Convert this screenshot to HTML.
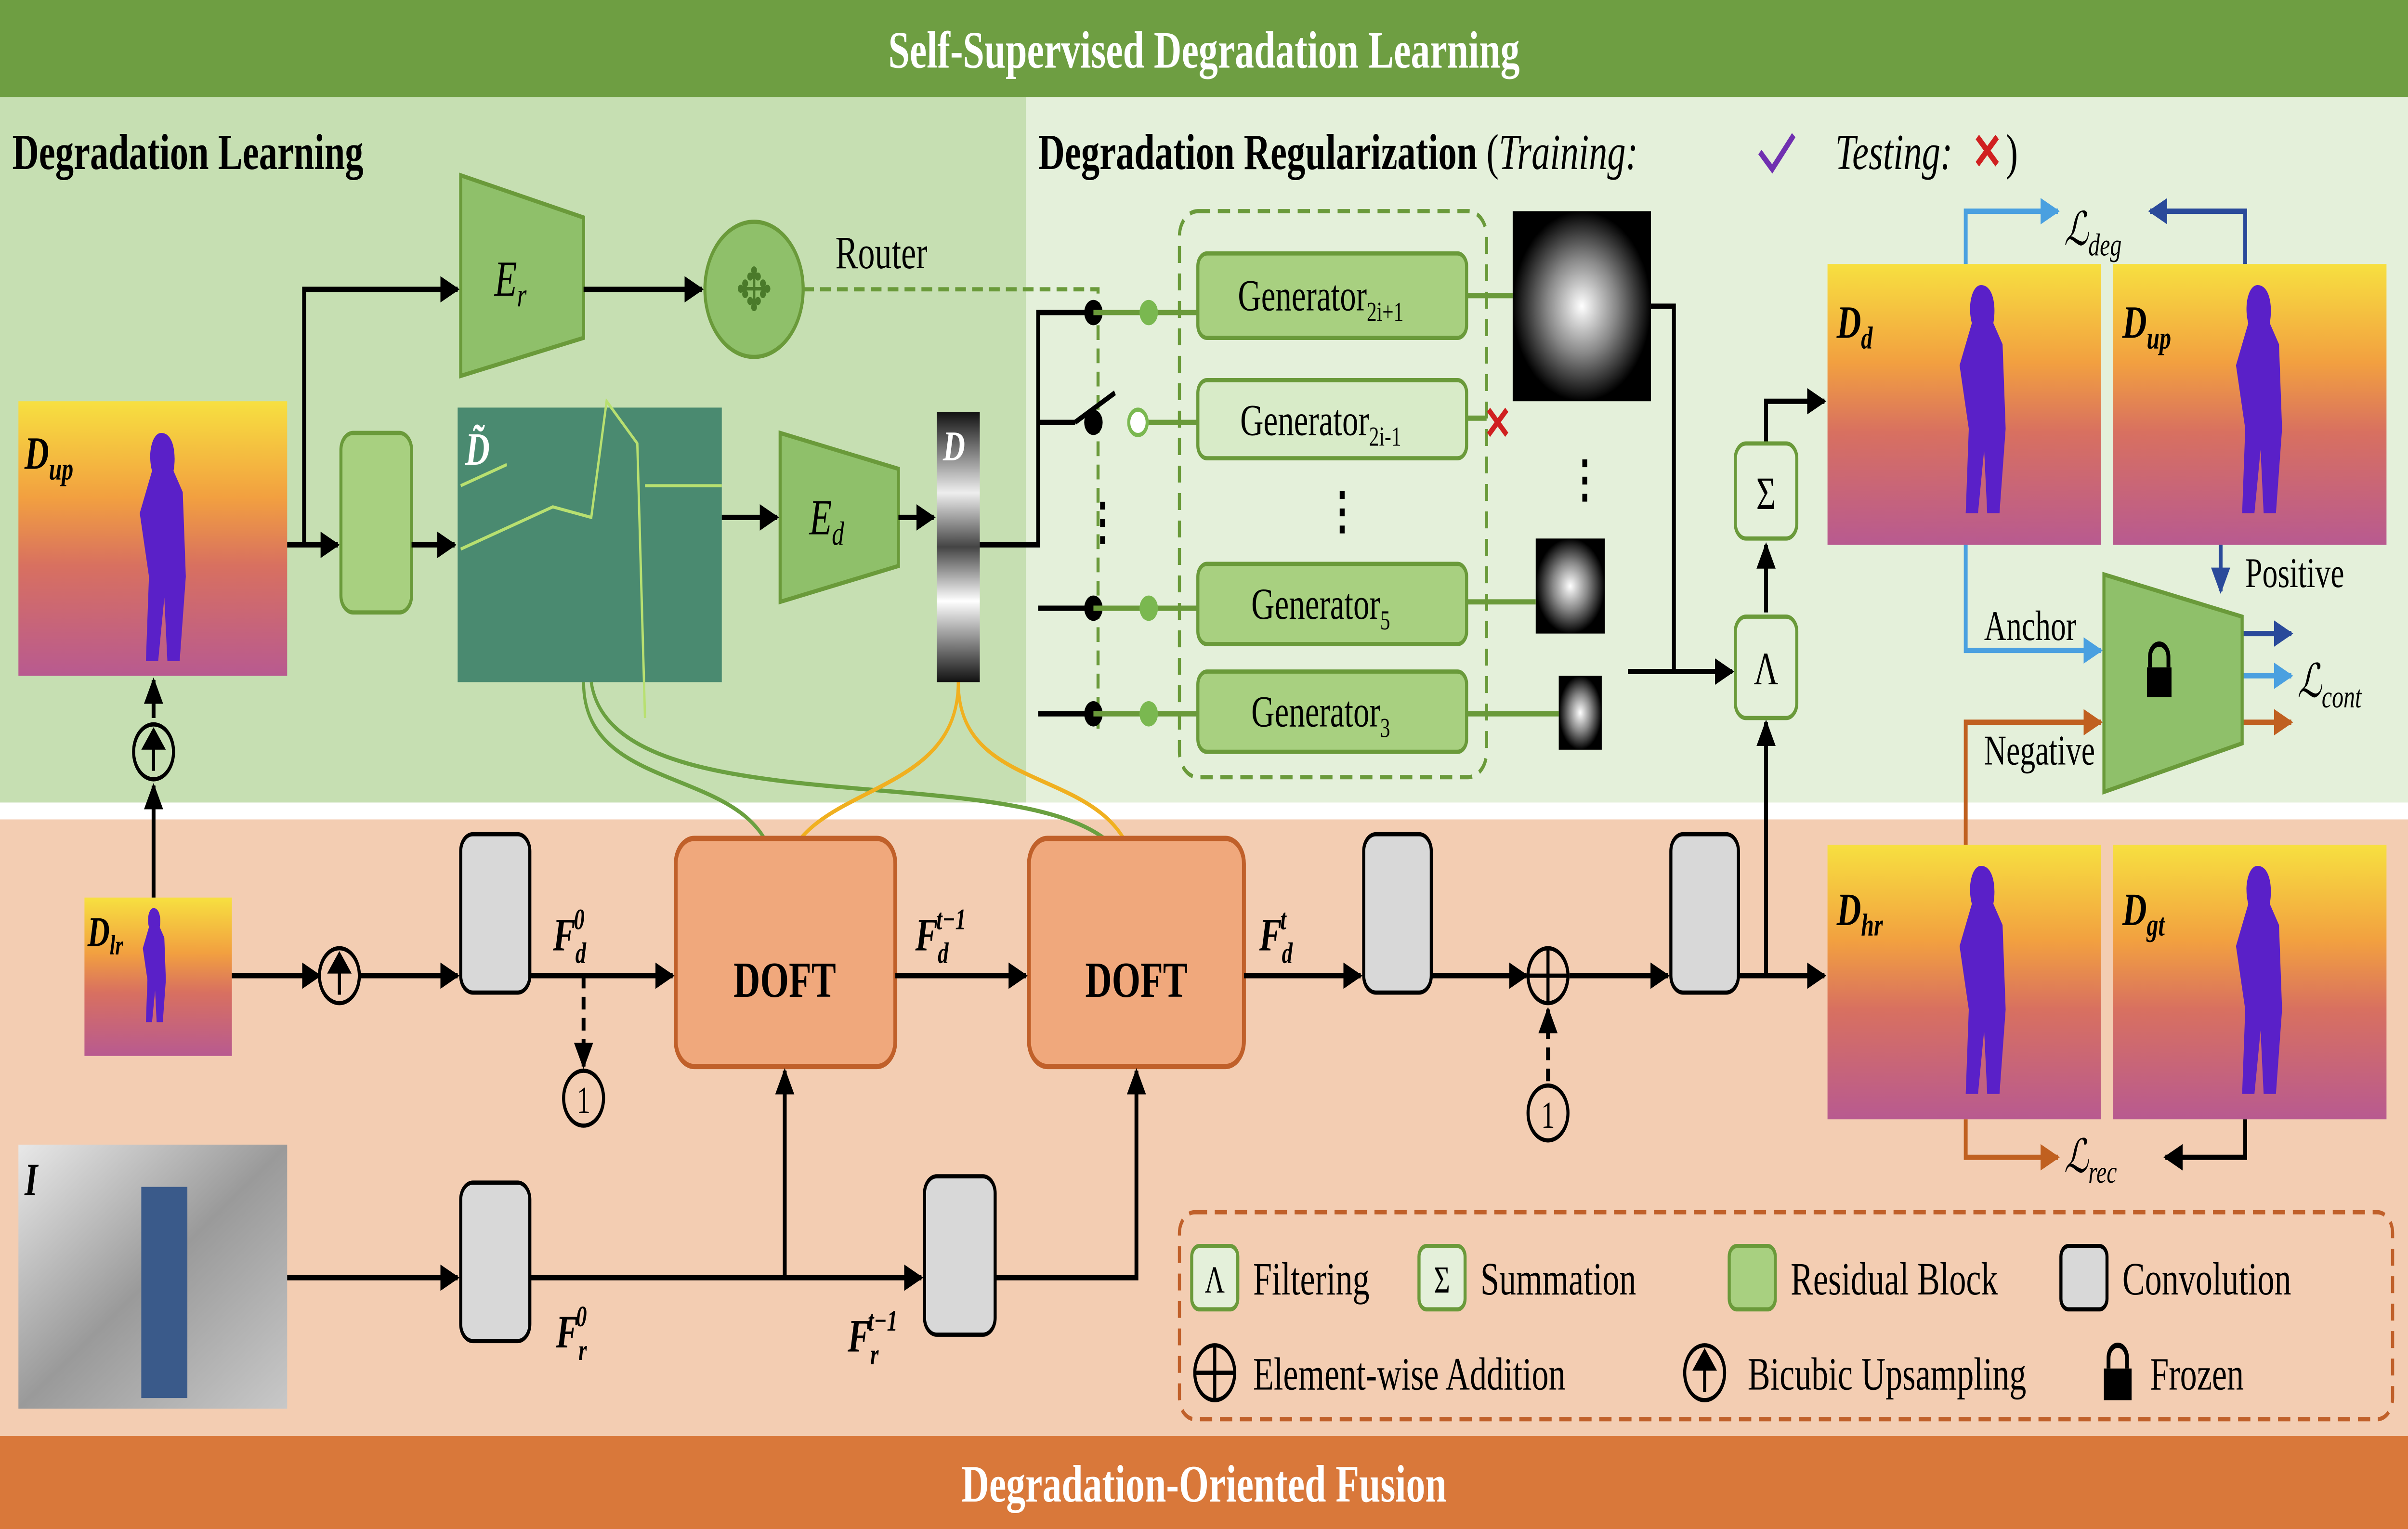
<!DOCTYPE html>
<html><head><meta charset="utf-8"><style>html,body{margin:0;padding:0;background:#fff;width:100vw;height:100vh;overflow:hidden}svg{display:block;width:100vw;height:100vh}text{font-family:"Liberation Serif",serif}</style></head><body>
<svg viewBox="0 0 1568 724" preserveAspectRatio="none" xmlns="http://www.w3.org/2000/svg">
<defs>
<linearGradient id="dep" x1="0" y1="0" x2="0" y2="1"><stop offset="0" stop-color="#f7e040"/><stop offset="0.35" stop-color="#f2a040"/><stop offset="0.6" stop-color="#d87060"/><stop offset="1" stop-color="#b85a90"/></linearGradient>
<linearGradient id="gray" x1="0" y1="0" x2="1" y2="1"><stop offset="0" stop-color="#e8e8e8"/><stop offset="0.5" stop-color="#9a9a9a"/><stop offset="1" stop-color="#c8c8c8"/></linearGradient>
<linearGradient id="strip" x1="0" y1="0" x2="0" y2="1"><stop offset="0" stop-color="#111"/><stop offset="0.3" stop-color="#eee"/><stop offset="0.5" stop-color="#444"/><stop offset="0.7" stop-color="#fff"/><stop offset="1" stop-color="#111"/></linearGradient>
<radialGradient id="kern"><stop offset="0" stop-color="#fff"/><stop offset="0.5" stop-color="#888"/><stop offset="1" stop-color="#000"/></radialGradient>
<marker id="a" viewBox="0 0 10 10" refX="9" refY="5" markerWidth="5" markerHeight="5" orient="auto"><path d="M0,0L10,5L0,10z" fill="#000"/></marker>
<marker id="ag" viewBox="0 0 10 10" refX="9" refY="5" markerWidth="5" markerHeight="5" orient="auto"><path d="M0,0L10,5L0,10z" fill="#6a9a3a"/></marker>
<marker id="ay" viewBox="0 0 10 10" refX="9" refY="5" markerWidth="5" markerHeight="5" orient="auto"><path d="M0,0L10,5L0,10z" fill="#f0b020"/></marker>
<marker id="ab" viewBox="0 0 10 10" refX="9" refY="5" markerWidth="5" markerHeight="5" orient="auto"><path d="M0,0L10,5L0,10z" fill="#4aa0e0"/></marker>
<marker id="an" viewBox="0 0 10 10" refX="9" refY="5" markerWidth="5" markerHeight="5" orient="auto"><path d="M0,0L10,5L0,10z" fill="#2a4a9a"/></marker>
<marker id="ao" viewBox="0 0 10 10" refX="9" refY="5" markerWidth="5" markerHeight="5" orient="auto"><path d="M0,0L10,5L0,10z" fill="#c06020"/></marker>
<g id="fig"><path d="M0,0c8,0 10,10 8,18l6,10l2,40l-4,40h-8l-2,-30l-4,30h-8l2,-40l-6,-30l8,-20c-3,-8 0,-18 6,-18z" fill="#5a20c8"/></g>
</defs>
<rect width="1568" height="724" fill="#fff"/>
<rect x="0" y="0" width="1568" height="46" fill="#6e9e42"/>
<text x="784" y="32" font-size="25" font-weight="bold" fill="#fff" text-anchor="middle">Self-Supervised Degradation Learning</text>
<rect x="0" y="46" width="668" height="334" fill="#c6dfb2"/>
<rect x="668" y="46" width="900" height="334" fill="#e4f0da"/>
<rect x="0" y="388" width="1568" height="292" fill="#f3cdb2"/>
<rect x="0" y="680" width="1568" height="44" fill="#d9783a"/>
<text x="784" y="711" font-size="25" font-weight="bold" fill="#fff" text-anchor="middle">Degradation-Oriented Fusion</text>
<text x="8" y="80" font-size="24" font-weight="bold">Degradation Learning</text>
<text x="676" y="80" font-size="24"><tspan font-weight="bold">Degradation Regularization</tspan> (<tspan font-style="italic">Training:</tspan></text>
<path d="M1146,72l8,8l14,-16" stroke="#7030b0" stroke-width="3" fill="none"/>
<text x="1195" y="80" font-size="24" font-style="italic">Testing:</text>
<text x="1284" y="80" font-size="24" fill="#d02020" font-weight="bold">✕</text><text x="1306" y="80" font-size="24">)</text>
<g><rect x="12" y="190" width="175" height="130" fill="url(#dep)"/><use href="#fig" x="105" y="205"/><text x="16" y="222" font-size="22" font-weight="bold" font-style="italic">D<tspan font-size="15" dy="5">up</tspan></text></g>
<g><rect x="55" y="425" width="96" height="75" fill="url(#dep)"/><use href="#fig" x="100" y="430" transform="translate(50,215) scale(0.5)"/><text x="57" y="448" font-size="20" font-weight="bold" font-style="italic">D<tspan font-size="13" dy="4">lr</tspan></text></g>
<g><rect x="12" y="542" width="175" height="125" fill="url(#gray)"/><rect x="92" y="562" width="30" height="100" fill="#3a5a8a"/><text x="16" y="566" font-size="22" font-weight="bold" font-style="italic">I</text></g>
<g><rect x="298" y="193" width="172" height="130" fill="#4a8a70"/><path d="M300,260l60,-20l25,5l10,-55l20,20l5,130M420,230h50M300,230l30,-10" stroke="#b8e070" stroke-width="1.5" fill="none"/><text x="303" y="220" font-size="22" font-weight="bold" font-style="italic" fill="#fff">D̃</text></g>
<rect x="610" y="195" width="28" height="128" fill="url(#strip)"/><text x="614" y="218" font-size="20" font-weight="bold" font-style="italic" fill="#fff">D</text>
<g><rect x="1190" y="125" width="178" height="133" fill="url(#dep)"/><use href="#fig" x="1290" y="135"/><text x="1196" y="160" font-size="22" font-weight="bold" font-style="italic">D<tspan font-size="15" dy="5">d</tspan></text></g>
<g><rect x="1376" y="125" width="178" height="133" fill="url(#dep)"/><use href="#fig" x="1470" y="135"/><text x="1382" y="160" font-size="22" font-weight="bold" font-style="italic">D<tspan font-size="15" dy="5">up</tspan></text></g>
<g><rect x="1190" y="400" width="178" height="130" fill="url(#dep)"/><use href="#fig" x="1290" y="410"/><text x="1196" y="438" font-size="22" font-weight="bold" font-style="italic">D<tspan font-size="15" dy="5">hr</tspan></text></g>
<g><rect x="1376" y="400" width="178" height="130" fill="url(#dep)"/><use href="#fig" x="1470" y="410"/><text x="1382" y="438" font-size="22" font-weight="bold" font-style="italic">D<tspan font-size="15" dy="5">gt</tspan></text></g>
<rect x="985" y="100" width="90" height="90" fill="url(#kern)"/>
<rect x="1000" y="255" width="45" height="45" fill="url(#kern)"/>
<rect x="1015" y="320" width="28" height="35" fill="url(#kern)"/>
<text x="1020" y="235" font-size="24" font-weight="bold">⋮</text>
<path d="M300,83L380,103V160L300,178z" fill="#8fc06a" stroke="#6a9a3a" stroke-width="2"/><text x="322" y="140" font-size="24" font-style="italic">E<tspan font-size="16" dy="5">r</tspan></text>
<path d="M508,205L585,222V268L508,285z" fill="#8fc06a" stroke="#6a9a3a" stroke-width="2"/><text x="527" y="253" font-size="24" font-style="italic">E<tspan font-size="16" dy="5">d</tspan></text>
<circle cx="491" cy="137" r="32" fill="#8fc06a" stroke="#6a9a3a" stroke-width="2"/><text x="491" y="147" font-size="28" text-anchor="middle" fill="#4a7a2a">✥</text>
<text x="544" y="127" font-size="22">Router</text>
<rect x="222" y="205" width="46" height="85" rx="8" fill="#a8d080" stroke="#6a9a3a" stroke-width="2"/>
<rect x="768" y="100" width="200" height="268" rx="12" fill="none" stroke="#6a9a3a" stroke-width="2" stroke-dasharray="8,5"/>
<g font-size="21" text-anchor="middle">
<rect x="780" y="120" width="175" height="40" rx="6" fill="#a8d080" stroke="#6a9a3a" stroke-width="2"/><text x="860" y="147">Generator<tspan font-size="13" dy="5">2i+1</tspan></text>
<rect x="780" y="180" width="175" height="37" rx="6" fill="#d8ebc8" stroke="#6a9a3a" stroke-width="2"/><text x="860" y="206">Generator<tspan font-size="13" dy="5">2i-1</tspan></text>
<rect x="780" y="267" width="175" height="38" rx="6" fill="#a8d080" stroke="#6a9a3a" stroke-width="2"/><text x="860" y="293">Generator<tspan font-size="13" dy="5">5</tspan></text>
<rect x="780" y="318" width="175" height="38" rx="6" fill="#a8d080" stroke="#6a9a3a" stroke-width="2"/><text x="860" y="344">Generator<tspan font-size="13" dy="5">3</tspan></text>
</g>
<text x="862" y="250" font-size="24" font-weight="bold">⋮</text><text x="706" y="255" font-size="24" font-weight="bold">⋮</text>
<text x="966" y="208" font-size="22" fill="#d02020" font-weight="bold">✕</text>
<path d="M523,137H715V345" stroke="#6a9a3a" stroke-width="2" fill="none" stroke-dasharray="7,4"/>
<g stroke="#000" stroke-width="2.5" fill="none">
<path d="M638,258H676V148H712M676,200H700M676,288H712M676,338H712"/>
<path d="M700,200L726,186"/>
</g>
<g fill="#000"><circle cx="712" cy="148" r="6"/><circle cx="712" cy="200" r="6"/><circle cx="712" cy="288" r="6"/><circle cx="712" cy="338" r="6"/></g>
<g stroke="#6a9a3a" stroke-width="2.5" fill="none"><path d="M712,148H780M745,200H780M712,288H780M712,338H780M955,140H985M955,198H968M955,285H1000M955,338H1015"/></g>
<g fill="#7ab850"><circle cx="748" cy="148" r="6"/><circle cx="748" cy="288" r="6"/><circle cx="748" cy="338" r="6"/></g><circle cx="741" cy="200" r="6" fill="#fff" stroke="#7ab850" stroke-width="2"/>
<g stroke="#000" stroke-width="2.5" fill="none" marker-end="url(#a)">
<path d="M187,258H220"/><path d="M198,258V137H298"/><path d="M380,137H457"/><path d="M268,258H296"/><path d="M470,245H506"/><path d="M585,245H608"/>
<path d="M1075,145H1090V318H1128"/><path d="M1060,318H1128"/>
<path d="M1150,290V258"/><path d="M1150,210V190H1188"/>
<path d="M1150,462V342"/>
<path d="M100,425V372"/><path d="M100,340V322"/>
</g>
<rect x="1130" y="210" width="40" height="45" rx="7" fill="#e4f0da" stroke="#6a9a3a" stroke-width="2"/><text x="1150" y="241" font-size="22" text-anchor="middle">Σ</text>
<rect x="1130" y="292" width="40" height="48" rx="7" fill="#e4f0da" stroke="#6a9a3a" stroke-width="2"/><text x="1150" y="324" font-size="22" text-anchor="middle">Λ</text>
<circle cx="100" cy="356" r="13" fill="none" stroke="#000" stroke-width="2"/><path d="M100,365V350M94,354L100,346L106,354z" stroke="#000" stroke-width="2"/>
<g stroke-width="2.5" fill="none">
<path d="M1280,125V100H1340" stroke="#4aa0e0" marker-end="url(#ab)"/>
<path d="M1462,125V100H1400" stroke="#2a4a9a" marker-end="url(#an)"/>
<path d="M1280,258V308H1368" stroke="#4aa0e0" marker-end="url(#ab)"/>
<path d="M1446,258V280" stroke="#2a4a9a" marker-end="url(#an)"/>
<path d="M1280,400V342H1368" stroke="#c06020" marker-end="url(#ao)"/>
<path d="M1455,300H1492" stroke="#2a4a9a" marker-end="url(#an)"/><path d="M1455,320H1492" stroke="#4aa0e0" marker-end="url(#ab)"/><path d="M1455,342H1492" stroke="#c06020" marker-end="url(#ao)"/>
<path d="M1280,530V548H1340" stroke="#c06020" marker-end="url(#ao)"/>
</g>
<path d="M1462,530V548H1410" stroke="#000" stroke-width="2.5" fill="none" marker-end="url(#a)"/>
<text x="1344" y="116" font-size="22" font-style="italic">ℒ<tspan font-size="15" dy="5">deg</tspan></text>
<text x="1462" y="278" font-size="20">Positive</text>
<text x="1292" y="303" font-size="20">Anchor</text>
<text x="1292" y="362" font-size="20">Negative</text>
<text x="1496" y="330" font-size="22" font-style="italic">ℒ<tspan font-size="15" dy="5">cont</tspan></text>
<text x="1344" y="555" font-size="22" font-style="italic">ℒ<tspan font-size="15" dy="5">rec</tspan></text>
<path d="M1370,272L1460,292V352L1370,375z" fill="#8fc06a" stroke="#6a9a3a" stroke-width="2"/>
<rect x="1398" y="316" width="16" height="14" fill="#000"/><path d="M1400,316v-5a6,6 0 0 1 12,0v5" stroke="#000" stroke-width="2.5" fill="none"/>
<g stroke-width="2" fill="none">
<path d="M380,323C380,380 500,360 505,415" stroke="#6aa040" marker-end="url(#ag)"/>
<path d="M385,323C400,400 720,350 735,415" stroke="#6aa040" marker-end="url(#ag)"/>
<path d="M624,323C624,380 520,370 510,415" stroke="#f0b020" marker-end="url(#ay)"/>
<path d="M624,323C624,380 730,360 740,415" stroke="#f0b020" marker-end="url(#ay)"/>
</g>
<g fill="#d8d8d8" stroke="#000" stroke-width="2">
<rect x="300" y="395" width="45" height="75" rx="8"/><rect x="888" y="395" width="44" height="75" rx="8"/><rect x="1088" y="395" width="44" height="75" rx="8"/>
<rect x="300" y="560" width="45" height="75" rx="8"/><rect x="602" y="557" width="46" height="75" rx="8"/>
</g>
<g fill="#f0a87c" stroke="#c0602a" stroke-width="2.5"><rect x="440" y="397" width="143" height="108" rx="12"/><rect x="670" y="397" width="140" height="108" rx="12"/></g>
<text x="511" y="472" font-size="24" font-weight="bold" text-anchor="middle">DOFT</text>
<text x="740" y="472" font-size="24" font-weight="bold" text-anchor="middle">DOFT</text>
<g stroke="#000" stroke-width="2.5" fill="none" marker-end="url(#a)">
<path d="M151,462H208"/><path d="M234,462H298"/><path d="M345,462H438"/><path d="M583,462H668"/><path d="M810,462H886"/><path d="M932,462H994"/><path d="M1022,462H1086"/><path d="M1132,462H1188"/>
<path d="M187,605H298"/><path d="M345,605H600"/><path d="M511,605V507"/><path d="M648,605H740V507"/>
</g>
<g stroke="#000" stroke-width="2.5" fill="none" stroke-dasharray="6,4"><path d="M380,462V505" marker-end="url(#a)"/><path d="M1008,512V478" marker-end="url(#a)"/></g>
<circle cx="221" cy="462" r="13" fill="none" stroke="#000" stroke-width="2"/><path d="M221,471V456M215,460L221,452L227,460z" stroke="#000" stroke-width="2"/>
<circle cx="1008" cy="462" r="13" fill="none" stroke="#000" stroke-width="2"/><path d="M995,462H1021M1008,449V475" stroke="#000" stroke-width="2"/>
<circle cx="380" cy="520" r="13" fill="none" stroke="#000" stroke-width="2"/><text x="380" y="527" font-size="18" text-anchor="middle">1</text>
<circle cx="1008" cy="527" r="13" fill="none" stroke="#000" stroke-width="2"/><text x="1008" y="534" font-size="18" text-anchor="middle">1</text>
<g font-size="22" font-weight="bold" font-style="italic">
<text x="360" y="450">F<tspan font-size="14" dy="6">d</tspan><tspan font-size="14" dx="-8" dy="-16">0</tspan></text>
<text x="596" y="450">F<tspan font-size="14" dy="6">d</tspan><tspan font-size="14" dx="-8" dy="-16">t−1</tspan></text>
<text x="820" y="450">F<tspan font-size="14" dy="6">d</tspan><tspan font-size="14" dx="-8" dy="-16">t</tspan></text>
<text x="362" y="638">F<tspan font-size="14" dy="6">r</tspan><tspan font-size="14" dx="-7" dy="-16">0</tspan></text>
<text x="552" y="640">F<tspan font-size="14" dy="6">r</tspan><tspan font-size="14" dx="-7" dy="-16">t−1</tspan></text>
</g>
<rect x="768" y="574" width="790" height="98" rx="10" fill="none" stroke="#c0602a" stroke-width="2" stroke-dasharray="8,5"/>
<g font-size="22">
<rect x="776" y="590" width="30" height="30" rx="5" fill="#e4f0da" stroke="#6a9a3a" stroke-width="2"/><text x="791" y="612" text-anchor="middle" font-size="18">Λ</text><text x="816" y="613">Filtering</text>
<rect x="924" y="590" width="30" height="30" rx="5" fill="#e4f0da" stroke="#6a9a3a" stroke-width="2"/><text x="939" y="612" text-anchor="middle" font-size="18">Σ</text><text x="964" y="613">Summation</text>
<rect x="1126" y="590" width="30" height="30" rx="5" fill="#a8d080" stroke="#6a9a3a" stroke-width="2"/><text x="1166" y="613">Residual Block</text>
<rect x="1342" y="590" width="30" height="30" rx="5" fill="#d8d8d8" stroke="#000" stroke-width="2"/><text x="1382" y="613">Convolution</text>
<circle cx="791" cy="650" r="13" fill="none" stroke="#000" stroke-width="2"/><path d="M778,650H804M791,637V663" stroke="#000" stroke-width="2"/><text x="816" y="658">Element-wise Addition</text>
<circle cx="1110" cy="650" r="13" fill="none" stroke="#000" stroke-width="2"/><path d="M1110,659V644M1104,648L1110,640L1116,648z" stroke="#000" stroke-width="2"/><text x="1138" y="658">Bicubic Upsampling</text>
<rect x="1370" y="648" width="18" height="15" fill="#000"/><path d="M1373,648v-5a6,6 0 0 1 12,0v5" stroke="#000" stroke-width="2.5" fill="none"/><text x="1400" y="658">Frozen</text>
</g>
</svg>
</body></html>
